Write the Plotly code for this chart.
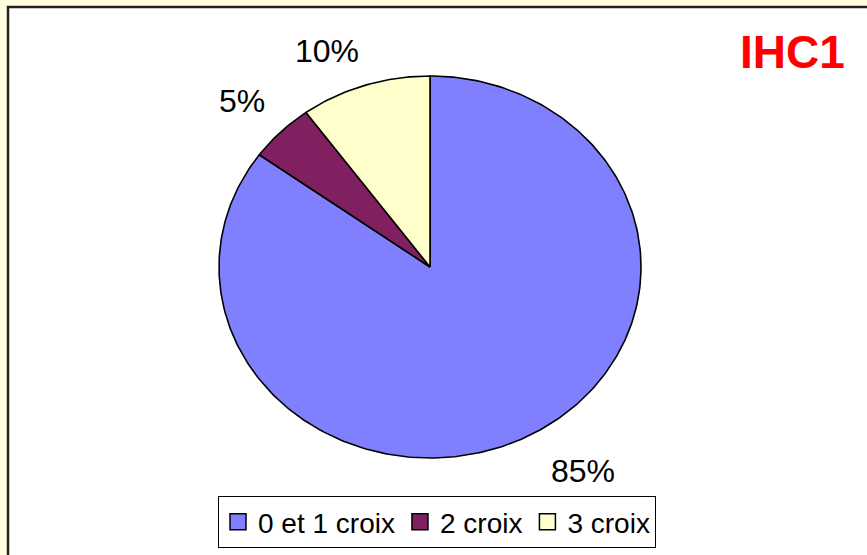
import numpy as np
import plotly.graph_objects as go

# Data
categories = ["0 et 1 croix", "2 croix", "3 croix"]
values = [85, 5, 10]
colors = ["#8080FF", "#802060", "#FFFFCC"]
title_text = "IHC1"

W, H = 867, 555

fig = go.Figure()

total = float(sum(values))
start = 0.0
for name, v, c in zip(categories, values, colors):
    frac = v / total
    t = np.linspace(start, start + frac, max(int(400 * frac), 8)) * 2 * np.pi
    # wedge outline: centre -> arc (clockwise from 12 o'clock) -> centre
    xs = np.concatenate([[0], np.sin(t), [0]])
    ys = np.concatenate([[0], np.cos(t), [0]])
    fig.add_trace(go.Scatter(
        x=xs, y=ys, mode="lines", fill="toself", fillcolor=c,
        line=dict(color="black", width=1.6), showlegend=False,
        hoverinfo="skip", legendgroup=name,
    ))
    # percentage label just outside the slice
    mid = (start + frac / 2) * 2 * np.pi
    lx, ly = 1.12 * np.sin(mid), 1.08 * np.cos(mid)
    fig.add_annotation(
        x=lx, y=ly, xref="x", yref="y", text=f"{v}%", showarrow=False,
        xanchor="left" if lx > 0 else "right",
        yanchor="top" if ly < 0 else "bottom",
        xshift=12 if lx > 0 else 4,
        font=dict(family="Liberation Sans, Arial", size=32, color="black"),
    )
    start += frac

# legend entries with square swatches
for name, c in zip(categories, colors):
    fig.add_trace(go.Scatter(
        x=[None], y=[None], mode="markers", name=name, legendgroup=name,
        marker=dict(symbol="square", size=16, color=c,
                    line=dict(color="black", width=1.5)),
    ))

# white chart area with dark frame on the cream background
fig.add_shape(type="rect", xref="paper", yref="paper",
              x0=8 / W, x1=1.02, y0=-0.02, y1=1 - 7 / H,
              fillcolor="white", line=dict(color="#222222", width=2.5),
              layer="below")

fig.add_annotation(
    xref="paper", yref="paper", x=1 - 20 / W, y=1 - 24 / H,
    xanchor="right", yanchor="top", text=f"<b>{title_text}</b>",
    showarrow=False,
    font=dict(family="Liberation Sans, Arial", size=46, color="#FF0000"),
)

fig.update_layout(
    width=W, height=H,
    margin=dict(l=0, r=0, t=0, b=0),
    paper_bgcolor="#FFFFE0",
    plot_bgcolor="rgba(0,0,0,0)",
    xaxis=dict(visible=False, range=[-2.038, 2.071], fixedrange=True),
    yaxis=dict(visible=False, range=[-1.508, 1.398], fixedrange=True),
    showlegend=True,
    legend=dict(
        orientation="h", x=437 / W, xanchor="center",
        y=7 / H, yanchor="bottom",
        bgcolor="white", bordercolor="black", borderwidth=1,
        font=dict(family="Liberation Sans, Arial", size=28, color="black"),
        itemsizing="trace",
    ),
)

fig.write_html("out.html")
